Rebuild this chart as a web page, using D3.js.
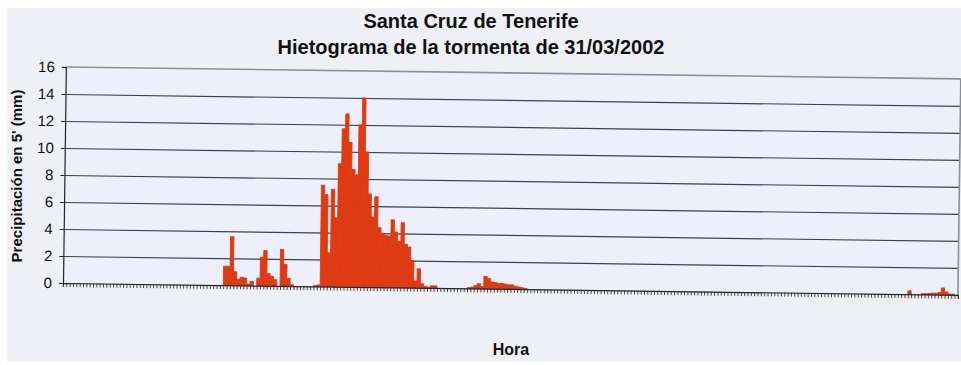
<!DOCTYPE html>
<html>
<head>
<meta charset="utf-8">
<script src="https://cdn.jsdelivr.net/npm/d3@7"></script>
<style>
  html, body { margin: 0; padding: 0; background: #ffffff; }
  svg { display: block; }
  text { font-family: "Liberation Sans", Arial, sans-serif; }
</style>
</head>
<body>
<svg id="chart" width="961" height="365"></svg>
<script>
// Chart text
const titleLines = ["Santa Cruz de Tenerife", "Hietograma de la tormenta de 31/03/2002"];
const yAxisTitle = "Precipitación en 5' (mm)";
const xAxisTitle = "Hora";
const yTicks = [0, 2, 4, 6, 8, 10, 12, 14, 16];

// Rainfall per 5-minute interval (mm), one value per interval
const rain = [
  0, 0, 0, 0, 0, 0, 0, 0, 0, 0, 0, 0, 0, 0, 0, 0, 0, 0, 0, 0,
  0, 0, 0, 0, 0, 0, 0, 0, 0, 0, 0, 0, 0, 0, 0, 0, 0, 0, 0, 0,
  0, 0, 0, 0, 0, 0, 0, 0, 1.4, 1.4, 3.6, 1.0, 0.45, 0.6, 0.55, 0.1, 0.3, 0, 0.55, 2.1,
  2.6, 0.9, 0.7, 0.45, 0, 2.7, 1.6, 0.55, 0.1, 0, 0, 0, 0, 0, 0, 0.05, 0.1, 7.5, 6.8, 2.5,
  7.2, 5.1, 9.1, 11.7, 12.8, 10.7, 8.7, 8.3, 12.0, 14.0, 10.0, 6.9, 5.2, 6.7, 4.4, 4.0, 3.85, 3.8, 5.0, 4.1,
  3.4, 4.8, 3.2, 3.0, 2.0, 0.5, 1.4, 0.3, 0.1, 0.05, 0.15, 0.15, 0, 0, 0, 0, 0, 0, 0, 0,
  0, 0.05, 0.1, 0.2, 0.35, 0.15, 0.9, 0.75, 0.5, 0.45, 0.4, 0.4, 0.35, 0.3, 0.3, 0.2, 0.15, 0.1, 0.05, 0,
  0, 0, 0, 0, 0, 0, 0, 0, 0, 0, 0, 0, 0, 0, 0, 0, 0, 0, 0, 0,
  0, 0, 0, 0, 0, 0, 0, 0, 0, 0, 0, 0, 0, 0, 0, 0, 0, 0, 0, 0,
  0, 0, 0, 0, 0, 0, 0, 0, 0, 0, 0, 0, 0, 0, 0, 0, 0, 0, 0, 0,
  0, 0, 0, 0, 0, 0, 0, 0, 0, 0, 0, 0, 0, 0, 0, 0, 0, 0, 0, 0,
  0, 0, 0, 0, 0, 0, 0, 0, 0, 0, 0, 0, 0, 0, 0, 0, 0, 0, 0, 0,
  0, 0, 0, 0, 0, 0, 0, 0, 0, 0, 0, 0, 0, 0.25, 0, 0, 0, 0.05, 0.05, 0.08,
  0.1, 0.1, 0.15, 0.5, 0.2, 0.05, 0.05, 0
];

const svg = d3.select("#chart");

// Paper background
svg.append("rect")
  .attr("x", 7).attr("y", 8).attr("width", 954).attr("height", 354)
  .attr("fill", "#eff0f5");

const plot = { left: 63, top: 67, width: 895, height: 216 };

const x = d3.scaleBand()
  .domain(d3.range(rain.length))
  .range([0, plot.width])
  .paddingInner(0).paddingOuter(0);
const xTick = d3.scaleLinear().domain([0, rain.length]).range([0, plot.width]);
const y = d3.scaleLinear().domain([0, 16]).range([plot.height, 0]);

// Plot group, tilted slightly about its lower-left corner
const g = svg.append("g")
  .attr("transform", `translate(${plot.left},${plot.top + plot.height}) rotate(0.76) translate(0,${-plot.height})`);

g.append("rect")
  .attr("width", plot.width).attr("height", plot.height)
  .attr("fill", "#edf0fa");

// Horizontal gridlines
const grid = g.append("g")
  .call(d3.axisLeft(y).tickValues(yTicks.filter(v => v > 0 && v < 16)).tickSize(-plot.width).tickFormat(""));
grid.select(".domain").remove();
grid.selectAll("line").attr("stroke", "#3b4150").attr("stroke-width", 1.2);

// Bars (the stroke closes the hairline seams between neighbouring bars)
g.append("g").selectAll("rect")
  .data(rain.map((v, i) => ({ v, i })).filter(d => d.v > 0))
  .join("rect")
  .attr("x", d => x(d.i))
  .attr("y", d => y(d.v))
  .attr("width", x.bandwidth())
  .attr("height", d => plot.height - y(d.v))
  .attr("fill", "#de3b13")
  .attr("stroke", "#de3b13")
  .attr("stroke-width", 0.9)
  .attr("stroke-linejoin", "miter");

// Plot frame: top and right edges
g.append("line")
  .attr("x1", 0).attr("x2", plot.width).attr("y1", 0).attr("y2", 0)
  .attr("stroke", "#8e8f94").attr("stroke-width", 1.6);
g.append("line")
  .attr("x1", plot.width).attr("x2", plot.width).attr("y1", 0).attr("y2", plot.height)
  .attr("stroke", "#8e8f94").attr("stroke-width", 1.6);

// Y axis
const yAxis = g.append("g")
  .call(d3.axisLeft(y).tickValues(yTicks).tickSize(4).tickPadding(7));
yAxis.select(".domain").attr("stroke", "#222").attr("stroke-width", 1.2);
yAxis.selectAll(".tick line").attr("stroke", "#222");
yAxis.selectAll("text")
  .attr("font-size", 15)
  .attr("fill", "#111")
  .style("font-family", "'Liberation Sans', Arial, sans-serif");

// X axis: one tick per 5-minute interval
const xAxis = g.append("g")
  .attr("transform", `translate(0,${plot.height})`)
  .call(d3.axisBottom(xTick).tickValues(d3.range(rain.length + 1)).tickSize(4).tickFormat(""));
xAxis.select(".domain").attr("stroke", "#222").attr("stroke-width", 1.2);
xAxis.selectAll(".tick line").attr("stroke", "#333").attr("stroke-width", 0.9);

// Titles
svg.append("text")
  .attr("x", 471).attr("y", 28)
  .attr("text-anchor", "middle")
  .attr("font-size", 20).attr("font-weight", "bold").attr("fill", "#111")
  .text(titleLines[0]);
svg.append("text")
  .attr("x", 471).attr("y", 54)
  .attr("text-anchor", "middle")
  .attr("font-size", 20).attr("font-weight", "bold").attr("fill", "#111")
  .text(titleLines[1]);

svg.append("text")
  .attr("transform", "translate(22,176) rotate(-90)")
  .attr("text-anchor", "middle")
  .attr("font-size", 15).attr("font-weight", "bold").attr("fill", "#111")
  .text(yAxisTitle);

svg.append("text")
  .attr("x", 511).attr("y", 355)
  .attr("text-anchor", "middle")
  .attr("font-size", 16).attr("font-weight", "bold").attr("fill", "#111")
  .text(xAxisTitle);
</script>
</body>
</html>
